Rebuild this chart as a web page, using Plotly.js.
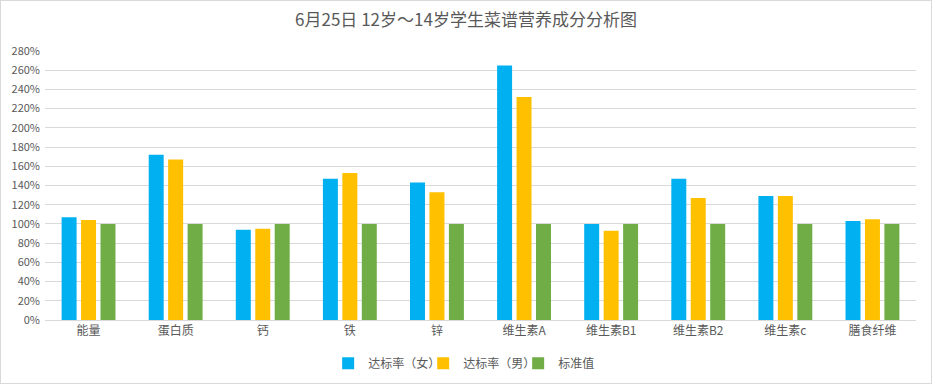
<!DOCTYPE html>
<html>
<head>
<meta charset="utf-8">
<script src="https://cdn.plot.ly/plotly-3.0.1.min.js"></script>
<style>
html,body{margin:0;padding:0;background:#fff;}
#chart{width:930px;height:382px;border:1px solid #d9d9d9;}
</style>
</head>
<body>
<div id="chart"></div>
<script>
const categories = ["能量","蛋白质","钙","铁","锌","维生素A","维生素B1","维生素B2","维生素c","膳食纤维"];
const female = [1.07, 1.72, 0.94, 1.47, 1.43, 2.65, 1.00, 1.47, 1.29, 1.03];
const male = [1.04, 1.67, 0.95, 1.53, 1.33, 2.32, 0.93, 1.27, 1.29, 1.05];
const standard = [1.00, 1.00, 1.00, 1.00, 1.00, 1.00, 1.00, 1.00, 1.00, 1.00];
const seriesNames = ["达标率（女）","达标率（男）","标准值"];
const titleText = "6月25日 12岁～14岁学生菜谱营养成分分析图";

const font = "'Noto Sans CJK SC', 'Noto Sans', sans-serif";
const colors = ["#00b0f0", "#ffc000", "#70ad47"];
const data = [female, male, standard].map((vals, i) => ({
  type: "bar",
  name: seriesNames[i],
  x: categories,
  y: vals,
  marker: {color: colors[i]},
  hoverinfo: "x+y"
}));

const layout = {
  width: 930, height: 382,
  margin: {l: 44, r: 15, t: 50, b: 63},
  paper_bgcolor: "#fff", plot_bgcolor: "#fff",
  title: {text: titleText, x: 0.5, xanchor: "center", y: 0.95, yanchor: "middle",
          font: {family: font, size: 17, color: "#595959"}},
  barmode: "group",
  bargap: 0.33,
  bargroupgap: 0.23,
  xaxis: {
    type: "category",
    tickfont: {family: font, size: 12, color: "#595959"},
    showline: true, linecolor: "#d9d9d9", linewidth: 1,
    ticks: "", showgrid: false, zeroline: false
  },
  yaxis: {
    range: [0, 2.8], dtick: 0.2, tick0: 0, tickformat: ".0%",
    tickfont: {family: font, size: 11, color: "#595959"},
    showgrid: true, gridcolor: "#d9d9d9", gridwidth: 1,
    zeroline: false, showline: false, ticks: "", ticklabelstandoff: 4
  },
  legend: {
    orientation: "h", x: 0.505, xanchor: "center", xref: "container",
    y: 0.052, yanchor: "middle", yref: "container",
    font: {family: font, size: 12, color: "#595959"},
    traceorder: "normal", itemwidth: 30, entrywidth: 50, tracegroupgap: 0,
    bgcolor: "rgba(0,0,0,0)"
  },
  showlegend: true
};

Plotly.newPlot("chart", data, layout, {displayModeBar: false, staticPlot: true});
</script>
</body>
</html>
